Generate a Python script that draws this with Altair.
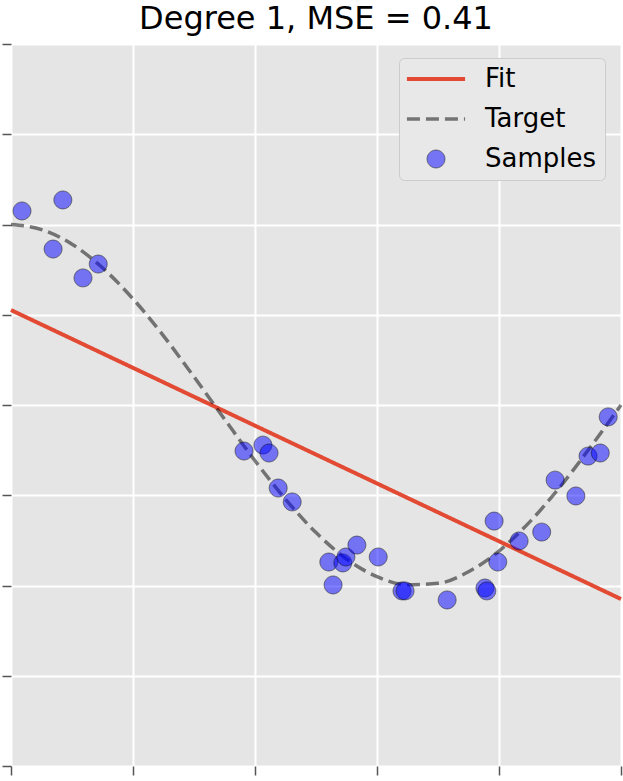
import altair as alt
import pandas as pd

# Noisy samples of the target function
sample_x = [0.018, 0.069, 0.085, 0.118, 0.143, 0.382, 0.413, 0.423, 0.438, 0.461,
            0.521, 0.528, 0.544, 0.549, 0.567, 0.602, 0.641, 0.646, 0.715, 0.777,
            0.780, 0.792, 0.798, 0.833, 0.870, 0.892, 0.926, 0.946, 0.966, 0.979]
sample_y = [1.075, 0.864, 1.136, 0.704, 0.781, -0.255, -0.222, -0.266, -0.460, -0.537,
            -0.870, -0.997, -0.875, -0.842, -0.776, -0.842, -1.030, -1.030, -1.080, -1.014,
            -1.030, -0.643, -0.870, -0.753, -0.704, -0.416, -0.504, -0.283, -0.266, -0.066]

# True function, tabulated
target_x = [0.00, 0.05, 0.10, 0.15, 0.20, 0.25, 0.30, 0.35, 0.40, 0.45, 0.50,
            0.55, 0.60, 0.65, 0.70, 0.75, 0.80, 0.85, 0.90, 0.95, 1.00]
target_y = [1.000, 0.972, 0.891, 0.760, 0.588, 0.383, 0.156, -0.078, -0.309, -0.522, -0.707,
            -0.853, -0.951, -0.996, -0.988, -0.924, -0.809, -0.649, -0.454, -0.233, 0.000]

# Degree-1 polynomial fit
fit_x = [0.0, 1.0]
fit_y = [0.526, -1.075]

series_names = ["Fit", "Target", "Samples"]

fit_df = pd.DataFrame({"x": fit_x, "y": fit_y, "series": "Fit"})
target_df = pd.DataFrame({"x": target_x, "y": target_y, "series": "Target"})
samples_df = pd.DataFrame({"x": sample_x, "y": sample_y, "series": "Samples"})

x_ticks = [0.0, 0.2, 0.4, 0.6, 0.8, 1.0]
y_ticks = [-2.0, -1.5, -1.0, -0.5, 0.0, 0.5, 1.0, 1.5, 2.0]

x_enc = alt.X("x:Q", scale=alt.Scale(domain=[0, 1], nice=False, zero=False),
              axis=alt.Axis(values=x_ticks), title=None)
y_enc = alt.Y("y:Q", scale=alt.Scale(domain=[-2, 2], nice=False, zero=False),
              axis=alt.Axis(values=y_ticks), title=None)

# Legend glyphs: a long horizontal segment for the lines, a circle for the samples
line_glyph = "M-3.25,0H3.25"

stroke_scale = alt.Scale(domain=series_names,
                         range=["#E24A33", "rgba(0,0,0,0.5)", "rgba(0,0,0,0.5)"])
fill_scale = alt.Scale(domain=series_names,
                       range=["transparent", "transparent", "rgba(0,0,255,0.5)"])
shape_scale = alt.Scale(domain=series_names, range=[line_glyph, line_glyph, "circle"])
dash_scale = alt.Scale(domain=series_names, range=[[1, 0], [13, 6], [1, 0]])
width_scale = alt.Scale(type="ordinal", domain=series_names, range=[4, 3.5, 1])
size_scale = alt.Scale(type="ordinal", domain=series_names, range=[320, 320, 320])

stroke_enc = alt.Stroke("series:N", scale=stroke_scale, title=None, sort=series_names)
dash_enc = alt.StrokeDash("series:N", scale=dash_scale, title=None, sort=series_names)
width_enc = alt.StrokeWidth("series:N", scale=width_scale, title=None, sort=series_names)

fit_line = alt.Chart(fit_df).mark_line().encode(
    x=x_enc, y=y_enc, stroke=stroke_enc, strokeDash=dash_enc, strokeWidth=width_enc
)

target_line = alt.Chart(target_df).mark_line(interpolate="monotone").encode(
    x=x_enc, y=y_enc, stroke=stroke_enc, strokeDash=dash_enc, strokeWidth=width_enc
)

points = alt.Chart(samples_df).mark_point(filled=True, opacity=1).encode(
    x=x_enc,
    y=y_enc,
    stroke=stroke_enc,
    strokeDash=dash_enc,
    strokeWidth=width_enc,
    fill=alt.Fill("series:N", scale=fill_scale, title=None, sort=series_names),
    shape=alt.Shape("series:N", scale=shape_scale, title=None, sort=series_names),
    size=alt.Size("series:N", scale=size_scale, title=None, sort=series_names),
)

chart = alt.layer(fit_line, target_line, points).properties(
    width=610,
    height=722,
    padding={"left": 11, "top": 44, "right": 2, "bottom": 15},
    autosize=alt.AutoSizeParams(type="none"),
    title=alt.TitleParams(
        "Degree 1, MSE = 0.41",
        font="DejaVu Sans",
        fontSize=32,
        fontWeight="normal",
        color="black",
        anchor="middle",
        offset=7,
    ),
).configure_view(
    fill="#E5E5E5", stroke="transparent"
).configure_axis(
    domain=False,
    labels=False,
    ticks=True,
    tickColor="#555555",
    tickSize=9,
    tickWidth=1.5,
    grid=True,
    gridColor="white",
    gridWidth=2,
).configure_legend(
    orient="none",
    legendX=388,
    legendY=14,
    fillColor="#E8E8E8",
    strokeColor="#CCCCCC",
    cornerRadius=5,
    padding=8,
    labelFont="DejaVu Sans",
    labelFontSize=26,
    labelColor="black",
    symbolOffset=16,
    labelOffset=36,
    rowPadding=14,
)

chart.save("out.html", embed_options={"renderer": "svg", "actions": False})
